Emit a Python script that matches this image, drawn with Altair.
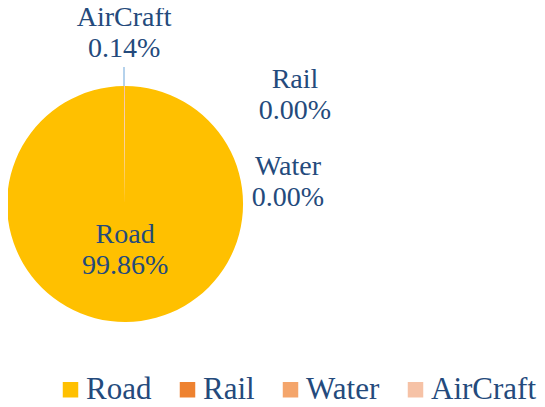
import altair as alt
import pandas as pd

categories = ["Road", "Rail", "Water", "AirCraft"]
shares = [99.86, 0.00, 0.00, 0.14]
pct_labels = ["99.86%", "0.00%", "0.00%", "0.14%"]
colors = ["#FFC000", "#EE8230", "#F4A56B", "#F6C2A6"]

TEXT_COLOR = "#244A7C"
FONT = "Liberation Serif"

df = pd.DataFrame({
    "category": categories,
    "share": shares,
    "order": list(range(len(categories))),
    "label": [[c, p] for c, p in zip(categories, pct_labels)],
})

CX, CY, R = 117, 196, 118

base = alt.Chart(df)

pie = base.mark_arc(radius=R, stroke=None).encode(
    x=alt.value(CX),
    y=alt.value(CY),
    theta=alt.Theta("share:Q", stack=True),
    color=alt.Color(
        "category:N",
        scale=alt.Scale(domain=categories, range=colors),
        sort=categories,
        legend=alt.Legend(
            title=None,
            orient="none",
            direction="horizontal",
            legendX=47,
            legendY=366,
            symbolType="square",
            symbolSize=240,
            symbolStrokeWidth=0,
            labelFont=FONT,
            labelFontSize=31,
            labelColor=TEXT_COLOR,
            labelOffset=0,
            columnPadding=20,
        ),
    ),
    order=alt.Order("order:Q"),
)

labeled = base.transform_window(
    cum="sum(share)", sort=[alt.SortField("order")]
).transform_calculate(mid="datum.cum - datum.share / 2")


def label_layer(cat, radius, dx=0, dy=0):
    return labeled.transform_filter(alt.datum.category == cat).mark_text(
        radius=radius, dx=dx, dy=dy, font=FONT, fontSize=28, color=TEXT_COLOR,
        align="center", baseline="middle", lineHeight=31,
    ).encode(
        x=alt.value(CX),
        y=alt.value(CY),
        theta=alt.Theta("mid:Q", stack=None),
        text="label",
    )


texts = [
    label_layer("Road", 31),
    label_layer("AirCraft", 186),
    label_layer("Rail", 0, dx=170, dy=-124),
    label_layer("Water", 0, dx=163, dy=-37),
]

leader = alt.Chart(pd.DataFrame({"k": [0]})).mark_rule(
    color="#9DC3E6", strokeWidth=1.5
).encode(x=alt.value(CX - 1), y=alt.value(CY - R - 19), y2=alt.value(CY - R))

chart = alt.layer(pie, leader, *texts).properties(
    width=529, height=391, padding=0,
    autosize=alt.AutoSizeParams(type="none"),
).configure_view(stroke=None)

chart.save("out.html", embed_options={"renderer": "svg", "actions": False})
